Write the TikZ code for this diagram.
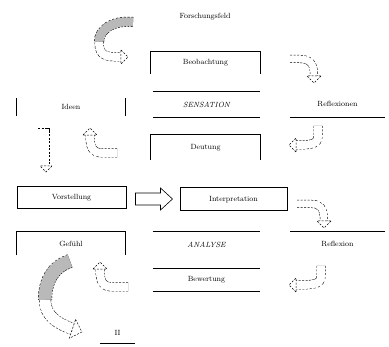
\documentclass[tikz,border=0pt]{standalone}
\usetikzlibrary{calc,decorations.markings}
% band edge: dashed outer stroke, then a solid inner stroke on top
% hollow arrow: [band colour]{gap}{head size}{path}
\newcommand\hollowarr[4][white]{%
  \draw[edge, line width={#2+1pt}, shorten >=#3] #4;
  \draw[#1, line width=#2, shorten >=#3] #4;
  \path[decorate, decoration={markings, mark=at position 0.999 with {%
    \draw[edge, line width=0.5pt, fill=white]
      (-#3,#3) -- (0pt,0pt) -- (-#3,-#3) -- cycle;}}] #4;
}
% band without a head
\newcommand\hollowband[3][white]{%
  \draw[edge, line width={#2+1pt}] #3;
  \draw[#1, line width=#2] #3;
}
\begin{document}
\begin{tikzpicture}[x=1pt,y=-1pt,
  lbl/.style={inner sep=0pt, font=\fontsize{7.5}{9}\selectfont},
  rule/.style={line width=1pt},
  edge/.style={dash pattern=on 2pt off 1.5pt},
]
\useasboundingbox[fill=white] (0,0) rectangle (389,347);

% title
\node[lbl] (title) at (205,17) {Forschungsfeld};

% first row
\node[lbl, minimum width=109pt, minimum height=22pt] (b1) at (205.5,63) {Beobachtung};
\draw[rule] (b1.south west) -- (b1.north west) -- (b1.north east) -- (b1.south east);

\node[lbl, minimum width=107pt, minimum height=25pt] (s1) at (206.5,104.5) {\itshape SENSATION};
\draw[rule] (s1.north west) -- (s1.north east);
\draw[rule] (s1.south west) -- (s1.south east);

\node[lbl, minimum width=108pt, minimum height=18pt] (l1) at (71,107) {Ideen};
\draw[rule] (l1.north west) -- (l1.south west);
\draw[rule] (l1.north east) -- (l1.south east);

\node[lbl, minimum width=95pt, minimum height=26pt] (r1) at (337.5,104) {Reflexionen};
\draw[rule] (r1.south west) -- (r1.south east);

\node[lbl, minimum width=109pt, minimum height=25pt] (b2) at (205.5,147.5) {Deutung};
\draw[rule] (b2.south west) -- (b2.north west) -- (b2.north east) -- (b2.south east);

% middle row
\node[lbl, draw, rule, minimum width=109pt, minimum height=22pt] (n1) at (71.5,198) {Vorstellung};
\node[lbl, draw, rule, minimum width=107pt, minimum height=23pt] (n2) at (233.5,199.5) {Interpretation};
\draw[line width=0.6pt, fill=white]
  ($(n1.east)+(9,-5)$) -- ++(25,0) -- ++(0,-5) -- ++(12,11) -- ++(-12,11)
  -- ++(0,-5) -- ++(-25,0) -- cycle;

% lower rows
\node[lbl, minimum width=108pt, minimum height=23pt] (l2) at (71,243.5) {Gef\"uhl};
\draw[rule] (l2.south west) -- (l2.north west) -- (l2.north east) -- (l2.south east);

\node[lbl, minimum width=107pt, minimum height=26pt] (s2) at (206.5,245) {\itshape ANALYSE};
\draw[rule] (s2.north west) -- (s2.north east);

\node[lbl, minimum width=107pt, minimum height=22pt] (s3) at (206.5,280) {Bewertung};
\draw[rule] (s3.north west) -- (s3.north east);
\draw[rule] (s3.south west) -- (s3.south east);

\node[lbl, minimum width=95pt, minimum height=24pt] (r2) at (337.5,244) {Reflexion};
\draw[rule] (r2.north west) -- (r2.north east);

\node[lbl, minimum width=35pt, minimum height=20pt] (ii) at (117.5,333) {II};
\draw[rule] (ii.south west) -- (ii.south east);

% turning arrows
\coordinate (tg1) at (133,22);
\coordinate (tg2) at (99,42);
\hollowband[gray!55]{9pt}{(tg1) .. controls (112,20) and (99,30) .. (tg2)}
\hollowarr{8pt}{7pt}{(tg2) .. controls (99,56) and (106,57) .. (128,57)}

\hollowarr{7pt}{7pt}{(290,59) -- (300,59) .. controls (312,59) and (314,66) .. (314,83)}
\hollowarr{6pt}{6pt}{(38,132) -- (46,132) -- (46,172)}
\hollowarr{8pt}{7pt}{(117,153) -- (103,153) .. controls (92,153) and (90,147) .. (90,128)}
\hollowarr{8pt}{7pt}{(318,126) -- (318,136) .. controls (318,144) and (312,145) .. (289,145)}
\hollowarr{7pt}{7pt}{(297,204) -- (312,204) .. controls (320,204) and (324,208) .. (324,228)}
\hollowarr{8pt}{7pt}{(321,266) -- (321,276) .. controls (321,284) and (315,285) .. (289,285)}
\hollowarr{8pt}{7pt}{(128,287) -- (113,287) .. controls (102,287) and (100,281) .. (100,262)}

\coordinate (bg1) at (70,261);
\coordinate (bg2) at (45,300);
\hollowband[gray!55]{13pt}{(bg1) .. controls (52,267) and (45,282) .. (bg2)}
\hollowarr{11pt}{10pt}{(bg2) .. controls (45,316) and (58,324) .. (82,332)}
\end{tikzpicture}
\end{document}
